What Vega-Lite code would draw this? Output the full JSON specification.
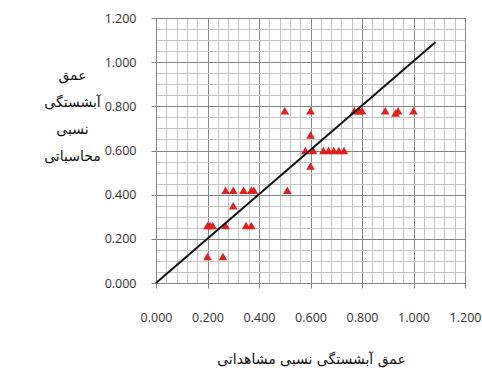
{
  "$schema": "https://vega.github.io/schema/vega-lite/v6.json",
  "width": 309,
  "height": 265,
  "autosize": "none",
  "padding": {"left": 156, "top": 18, "right": 17, "bottom": 102},
  "background": "white",
  "config": {"view": {"stroke": null}},
  "datasets": {
    "pts": [
      {"obs": 0.50, "calc": 0.78}, {"obs": 0.60, "calc": 0.78}, {"obs": 0.77, "calc": 0.78},
      {"obs": 0.79, "calc": 0.78}, {"obs": 0.80, "calc": 0.78}, {"obs": 0.89, "calc": 0.78},
      {"obs": 0.93, "calc": 0.77}, {"obs": 0.94, "calc": 0.78}, {"obs": 1.00, "calc": 0.78},
      {"obs": 0.60, "calc": 0.67},
      {"obs": 0.58, "calc": 0.60}, {"obs": 0.61, "calc": 0.60}, {"obs": 0.65, "calc": 0.60},
      {"obs": 0.67, "calc": 0.60}, {"obs": 0.69, "calc": 0.60}, {"obs": 0.71, "calc": 0.60},
      {"obs": 0.73, "calc": 0.60},
      {"obs": 0.60, "calc": 0.53},
      {"obs": 0.27, "calc": 0.42}, {"obs": 0.30, "calc": 0.42}, {"obs": 0.34, "calc": 0.42},
      {"obs": 0.37, "calc": 0.42}, {"obs": 0.38, "calc": 0.42}, {"obs": 0.51, "calc": 0.42},
      {"obs": 0.30, "calc": 0.35},
      {"obs": 0.20, "calc": 0.26}, {"obs": 0.21, "calc": 0.26}, {"obs": 0.22, "calc": 0.26},
      {"obs": 0.27, "calc": 0.26}, {"obs": 0.35, "calc": 0.26}, {"obs": 0.37, "calc": 0.26},
      {"obs": 0.20, "calc": 0.12}, {"obs": 0.26, "calc": 0.12}
    ],
    "fit": [
      {"obs": 0.0, "calc": 0.0},
      {"obs": 1.085, "calc": 1.09}
    ]
  },
  "layer": [
    {
      "data": {"name": "pts"},
      "mark": {"type": "point", "shape": "triangle-up", "filled": true, "color": "#e0201b", "opacity": 1, "size": 75},
      "encoding": {
        "x": {
          "field": "obs", "type": "quantitative",
          "scale": {"domain": [0, 1.2], "nice": false, "zero": false},
          "axis": {
            "orient": "bottom", "title": null, "labels": false, "ticks": false, "domain": false,
            "grid": true, "gridColor": "#c4c4c4", "gridWidth": 1, "gridOpacity": 1,
            "values": [0.04,0.08,0.12,0.16,0.24,0.28,0.32,0.36,0.44,0.48,0.52,0.56,0.64,0.68,0.72,0.76,0.84,0.88,0.92,0.96,1.04,1.08,1.12,1.16]
          }
        },
        "y": {
          "field": "calc", "type": "quantitative",
          "scale": {"domain": [0, 1.2], "nice": false, "zero": false},
          "axis": {
            "orient": "left", "title": null, "labels": false, "ticks": false, "domain": false,
            "grid": true, "gridColor": "#c4c4c4", "gridWidth": 1, "gridOpacity": 1,
            "values": [0.05,0.1,0.15,0.25,0.3,0.35,0.45,0.5,0.55,0.65,0.7,0.75,0.85,0.9,0.95,1.05,1.1,1.15]
          }
        }
      }
    },
    {
      "data": {"name": "fit"},
      "mark": {"type": "line", "color": "#111111", "strokeWidth": 2},
      "encoding": {
        "x": {
          "field": "obs", "type": "quantitative",
          "scale": {"domain": [0, 1.2], "nice": false, "zero": false},
          "axis": {
            "orient": "bottom",
            "values": [0, 0.2, 0.4, 0.6, 0.8, 1.0, 1.2],
            "format": ".3f",
            "labelFlush": false, "labelOverlap": false,
            "grid": true, "gridColor": "#858585", "gridWidth": 1, "gridOpacity": 1,
            "domain": true, "domainColor": "#858585",
            "ticks": true, "tickColor": "#858585", "tickSize": 5,
            "labelFont": "Open Sans", "labelFontSize": 12.5, "labelColor": "#333333", "labelPadding": 23,
            "title": "عمق آبشستگی نسبی مشاهداتی",
            "titleFont": "DejaVu Sans", "titleFontSize": 14, "titleFontWeight": "normal", "titleColor": "#111111",
            "titleX": 155, "titleY": 76, "titleBaseline": "middle", "titleAlign": "center"
          }
        },
        "y": {
          "field": "calc", "type": "quantitative",
          "scale": {"domain": [0, 1.2], "nice": false, "zero": false},
          "axis": {
            "orient": "left",
            "values": [0, 0.2, 0.4, 0.6, 0.8, 1.0, 1.2],
            "format": ".3f",
            "labelFlush": false, "labelOverlap": false,
            "grid": true, "gridColor": "#858585", "gridWidth": 1, "gridOpacity": 1,
            "domain": true, "domainColor": "#858585",
            "ticks": true, "tickColor": "#858585", "tickSize": 5,
            "labelFont": "Open Sans", "labelFontSize": 12.5, "labelColor": "#333333", "labelPadding": 15,
            "title": ["عمق", "آبشستگی", "نسبی", "محاسباتی"],
            "titleFont": "DejaVu Sans", "titleFontSize": 14, "titleFontWeight": "normal", "titleColor": "#111111",
            "titleAngle": 0, "titleAlign": "center", "titleBaseline": "middle",
            "titleX": -84, "titleY": 57, "titleLineHeight": 27
          }
        }
      }
    }
  ],
  "resolve": {"axis": {"x": "independent", "y": "independent"}}
}
